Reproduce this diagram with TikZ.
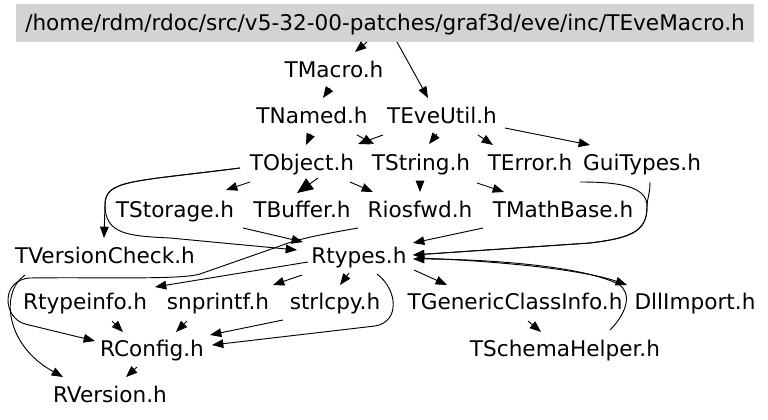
\documentclass[tikz,border=0pt]{standalone}
\usepackage{fontspec}
\setmainfont{DejaVu Sans}
\usetikzlibrary{arrows.meta,calc}
\definecolor{rootgray}{RGB}{211,211,211}
\begin{document}
\begin{tikzpicture}[x=0.75pt,y=-0.75pt,
  file/.style={inner sep=0pt, font=\fontsize{16.2}{19}\selectfont, text height=11.8pt, text depth=0pt},
  rootbox/.style={file, fill=rootgray, minimum width=553.5pt, minimum height=28.5pt},
  dep/.style={draw=black, line width=0.7pt, -{Triangle[length=8.5pt,width=6.5pt]}},
  bigdep/.style={dep, -{Triangle[length=12pt,width=10pt]}}]
\useasboundingbox (0,0) rectangle (768,420);
\node[rootbox] (root) at (385,23) {/home/rdm/rdoc/src/v5-32-00-patches/graf3d/eve/inc/TEveMacro.h};
\node[file] (tmacro) at (334,70) {TMacro.h};
\node[file] (tnamed) at (312,116) {TNamed.h};
\node[file] (teveutil) at (442,116) {TEveUtil.h};
\node[file] (tobject) at (302,163) {TObject.h};
\node[file] (tstring) at (421,163) {TString.h};
\node[file] (terror) at (530,163) {TError.h};
\node[file] (guitypes) at (642,163) {GuiTypes.h};
\node[file] (tstorage) at (175,210) {TStorage.h};
\node[file] (tbuffer) at (302,210) {TBuffer.h};
\node[file] (riosfwd) at (420,210) {Riosfwd.h};
\node[file] (tmathbase) at (563,210) {TMathBase.h};
\node[file] (tversion) at (105,256) {TVersionCheck.h};
\node[file] (rtypes) at (359,256) {Rtypes.h};
\node[file] (rtypeinfo) at (85,302) {Rtypeinfo.h};
\node[file] (snprintf) at (218,302) {snprintf.h};
\node[file] (strlcpy) at (335,302) {strlcpy.h};
\node[file] (tgeneric) at (515,302) {TGenericClassInfo.h};
\node[file] (dllimport) at (695,302) {DllImport.h};
\node[file] (rconfig) at (152,349) {RConfig.h};
\node[file] (tschema) at (565,349) {TSchemaHelper.h};
\node[file] (rversion) at (110,395) {RVersion.h};

\draw[dep] ($(root)+(-18,19)$) -- ($(tmacro)+(21,-18)$);
\draw[dep] ($(root)+(12,19)$) -- ($(teveutil)+(-14,-18)$);
\draw[dep] ($(tmacro)+(-4,18)$) -- ($(tnamed)+(11,-18)$);
\draw[dep] ($(tnamed)+(-1,18)$) -- ($(tobject)+(4,-18)$);
\draw[dep] ($(tnamed)+(45,19)$) -- ($(tstring)+(-47,-19)$);
\draw[dep] ($(teveutil)+(-59,19)$) -- ($(tobject)+(56,-19)$);
\draw[dep] ($(teveutil)+(-5,18)$) -- ($(tstring)+(8,-19)$);
\draw[dep] ($(teveutil)+(36,19)$) -- ($(terror)+(-37,-18)$);
\draw[dep] ($(teveutil)+(63,12)$) -- ($(guitypes)+(-52,-18)$);
\draw[dep] ($(tobject)+(-52,19)$) -- ($(tstorage)+(51,-20)$);
\draw[bigdep] ($(tobject)+(16,15)$) -- ($(tbuffer)+(-5,-17)$);
\draw[dep] ($(tobject)+(48,19)$) -- ($(riosfwd)+(-47,-18)$);
\draw[dep] ($(tstring)+(-1,19)$) -- ($(riosfwd)+(0,-18)$);
\draw[dep] ($(tstring)+(56,20)$) -- ($(tmathbase)+(-59,-18)$);
\draw[dep] ($(tstorage)+(68,18)$) -- ($(rtypes)+(-56,-14)$);
\draw[dep] ($(tmathbase)+(-80,18)$) -- ($(rtypes)+(54,-13)$);
\draw[dep] ($(tobject)+(-62,5)$) .. controls (130,182) and (105,180) .. (105,205) -- ($(tversion)+(-1,-18)$);
\draw[dep] ($(tobject)+(-62,5)$) .. controls (130,182) and (105,180) .. (105,205) .. controls (105,235) and (130,236) .. (170,238) -- ($(rtypes)+(-62,-6)$);
\draw[dep] ($(riosfwd)+(-62,18)$) .. controls (330,233) and (300,238) .. (280,246) -- (200,274) .. controls (180,280) and (100,277) .. (30,278) .. controls (0,280) and (3,318) .. (25,324) -- ($(rconfig)+(-57,-8)$);
\draw[dep] ($(tversion)+(-80,19)$) .. controls (0,292) and (5,345) .. ($(rversion)+(-47,-18)$);
\draw[dep] ($(terror)+(50,19)$) .. controls (615,182) and (648,185) .. (647,207) .. controls (647,232) and (630,238) .. (590,243) -- ($(rtypes)+(54,-1)$);
\draw[dep] ($(guitypes)+(8,19)$) .. controls (650,195) and (647,198) .. (647,207) .. controls (647,232) and (630,238) .. (590,243) -- ($(rtypes)+(54,-1)$);
\draw[dep] ($(rtypes)+(-51,6)$) -- ($(rtypeinfo)+(70,-15)$);
\draw[dep] ($(rtypes)+(-57,19)$) -- ($(snprintf)+(55,-17)$);
\draw[dep] ($(rtypes)+(-10,17)$) -- ($(strlcpy)+(5,-17)$);
\draw[dep] ($(rtypes)+(55,14)$) -- ($(tgeneric)+(-68,-17)$);
\draw[dep] ($(rtypes)+(59,2)$) .. controls (520,262) and (590,272) .. ($(dllimport)+(-68,-17)$);
\draw[dep] ($(tschema)+(45,-19)$) .. controls (628,312) and (632,292) .. (618,284) .. controls (580,265) and (480,259) .. ($(rtypes)+(54,3)$);
\draw[dep] ($(rtypes)+(18,18)$) .. controls (398,290) and (400,322) .. (375,326) -- ($(rconfig)+(60,-4)$);
\draw[dep] ($(strlcpy)+(-52,18)$) -- ($(rconfig)+(58,-14)$);
\draw[dep] ($(snprintf)+(-31,19)$) -- ($(rconfig)+(24,-17)$);
\draw[dep] ($(rtypeinfo)+(27,19)$) -- ($(rconfig)+(-29,-17)$);
\draw[dep] ($(rconfig)+(-15,18)$) -- ($(rversion)+(16,-18)$);
\draw[dep] ($(tgeneric)+(13,19)$) -- ($(tschema)+(-24,-17)$);
\end{tikzpicture}
\end{document}
